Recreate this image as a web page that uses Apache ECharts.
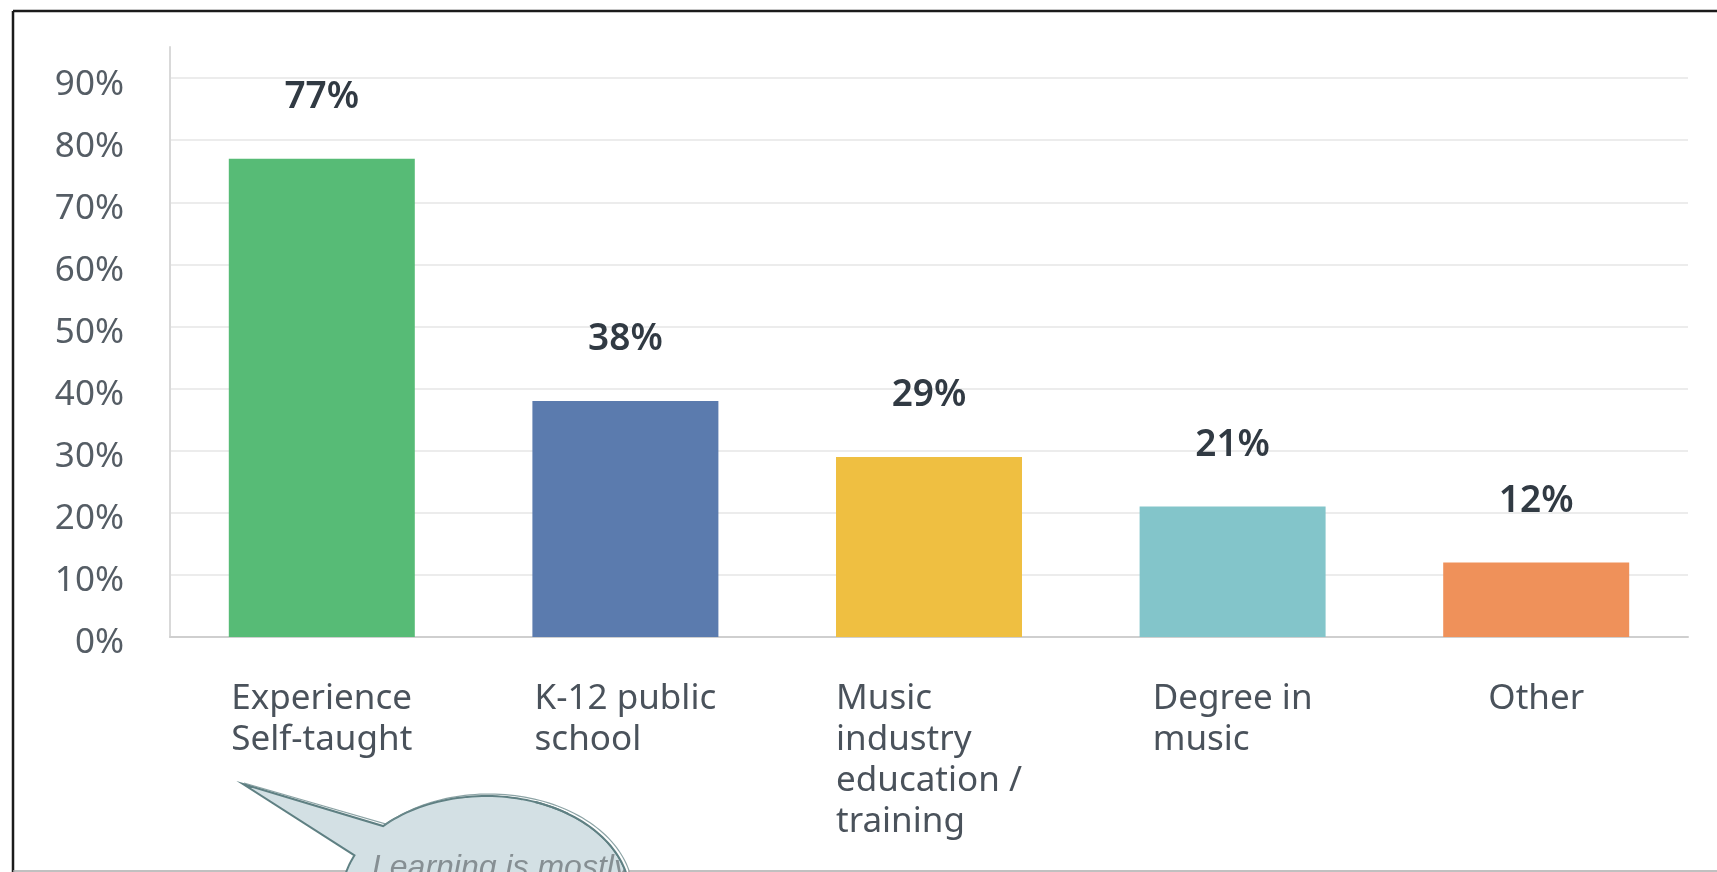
<!DOCTYPE html>
<html>
<head>
<meta charset="utf-8">
<title>Music education background</title>
<script src="https://cdn.jsdelivr.net/npm/echarts@6/dist/echarts.min.js"></script>
<style>
  html, body { margin: 0; padding: 0; background: #ffffff; }
  #chart { width: 1717px; height: 872px; }
</style>
</head>
<body>
<div id="chart"></div>
<script>
// Survey answers: where the respondents learned what they know about music
const categories = [
  'Experience\nSelf-taught',
  'K-12 public\nschool',
  'Music\nindustry\neducation /\ntraining',
  'Degree in\nmusic',
  'Other'
];
const percentages = [77, 38, 29, 21, 12];
const yTicks = [0, 10, 20, 30, 40, 50, 60, 70, 80, 90];

const barColors = ['#57bb76', '#5b7bae', '#efbf41', '#83c5ca', '#ef915a'];
const bubbleText = 'Learning is mostly';

const FONT = '"Noto Sans", "Open Sans", sans-serif';

const chart = echarts.init(document.getElementById('chart'), null, { renderer: 'canvas' });

// Speech bubble: pointer tip plus an elliptical body whose lower part runs off the page
const bubble = { cx: 486, cy: 896, rx: 144, ry: 100, tip: [243, 784], a0: 224.4, a1: 564 };
function ellipsePoint(b, deg, dx, dy) {
  const t = deg * Math.PI / 180;
  return [b.cx + b.rx * Math.cos(t) + (dx || 0), b.cy + b.ry * Math.sin(t) + (dy || 0)];
}
function arcPoints(b, from, to, dx, dy) {
  const pts = [];
  for (let d = from; d < to; d += 2) pts.push(ellipsePoint(b, d, dx, dy));
  pts.push(ellipsePoint(b, to, dx, dy));
  return pts;
}
function bubbleOutline(b) {
  return [b.tip].concat(arcPoints(b, b.a0, b.a1));
}
function echoStroke(b) {
  return [[b.tip[0] + 1, b.tip[1] - 1]].concat(arcPoints(b, b.a0, 420, 3, -2));
}
// white patch outside the right edge of the bubble, so the caption stays inside it
function rightMask(b) {
  const pts = arcPoints(b, 305, 350);
  pts.push([800, 880], [800, 810], [pts[0][0], 810]);
  return pts;
}

chart.setOption({
  backgroundColor: '#ffffff',
  animation: false,
  grid: { left: 170, right: 29, top: 47, bottom: 235, containLabel: false, outerBoundsMode: 'none' },
  xAxis: {
    type: 'category',
    data: categories,
    axisLine: { show: true, lineStyle: { color: '#cfcfcf', width: 2 } },
    axisTick: { show: false },
    splitLine: { show: false },
    axisLabel: {
      interval: 0,
      margin: 42,
      align: 'center',
      formatter: function (v) {
        return v.split('\n').map(function (s) { return '{l|' + s + '}'; }).join('\n');
      },
      rich: {
        l: { align: 'left', fontFamily: FONT, fontSize: 35, lineHeight: 41, color: '#4a525b' }
      }
    }
  },
  yAxis: {
    type: 'value',
    min: yTicks[0],
    max: 95,
    interval: yTicks[1] - yTicks[0],
    axisLine: { show: true, lineStyle: { color: '#d9d9d9', width: 2 } },
    axisTick: { show: false },
    splitLine: { show: true, showMaxLine: false, lineStyle: { color: '#ececec', width: 2 } },
    axisLabel: {
      showMaxLabel: false,
      margin: 46,
      verticalAlign: 'top',
      lineHeight: 13,
      formatter: '{value}%',
      fontFamily: FONT,
      fontSize: 35,
      color: '#555d65'
    }
  },
  series: [{
    type: 'bar',
    barWidth: 186,
    data: percentages.map(function (v, i) {
      return { value: v, itemStyle: { color: barColors[i] } };
    }),
    label: {
      show: true,
      position: 'top',
      distance: 43,
      formatter: '{c}%',
      fontFamily: FONT,
      fontSize: 37,
      fontWeight: 600,
      color: '#313a43'
    }
  }],
  graphic: [
    // frame
    { type: 'line', z: 100, shape: { x1: 13, y1: 11, x2: 1717, y2: 11 }, style: { stroke: '#1b1b1b', lineWidth: 2.5 } },
    { type: 'line', z: 100, shape: { x1: 13, y1: 11, x2: 13, y2: 872 }, style: { stroke: '#1b1b1b', lineWidth: 2.5 } },
    { type: 'line', z: 100, shape: { x1: 13, y1: 871, x2: 400, y2: 871 }, style: { stroke: '#ababab', lineWidth: 1.5 } },
    { type: 'line', z: 115, shape: { x1: 628, y1: 871, x2: 1717, y2: 871 }, style: { stroke: '#ababab', lineWidth: 1.5 } },
    // callout bubble
    { type: 'polygon', z: 110, shape: { points: bubbleOutline(bubble) }, style: { fill: '#d3e0e4', stroke: '#5f8083', lineWidth: 2 } },
    {
      type: 'text', z: 112,
      style: {
        x: 372, y: 852,
        text: bubbleText,
        font: 'italic 32px "Liberation Sans", Arial, sans-serif',
        fill: '#868f93',
        textAlign: 'left',
        textVerticalAlign: 'top'
      }
    },
    { type: 'polygon', z: 113, shape: { points: rightMask(bubble) }, style: { fill: '#ffffff' } },
    { type: 'polyline', z: 114, shape: { points: arcPoints(bubble, 290, 360) }, style: { fill: null, stroke: '#5f8083', lineWidth: 2 } },
    { type: 'polyline', z: 114, shape: { points: echoStroke(bubble) }, style: { fill: null, stroke: '#6f8c8f', lineWidth: 1.2, opacity: 0.8 } }
  ]
});
</script>
</body>
</html>
